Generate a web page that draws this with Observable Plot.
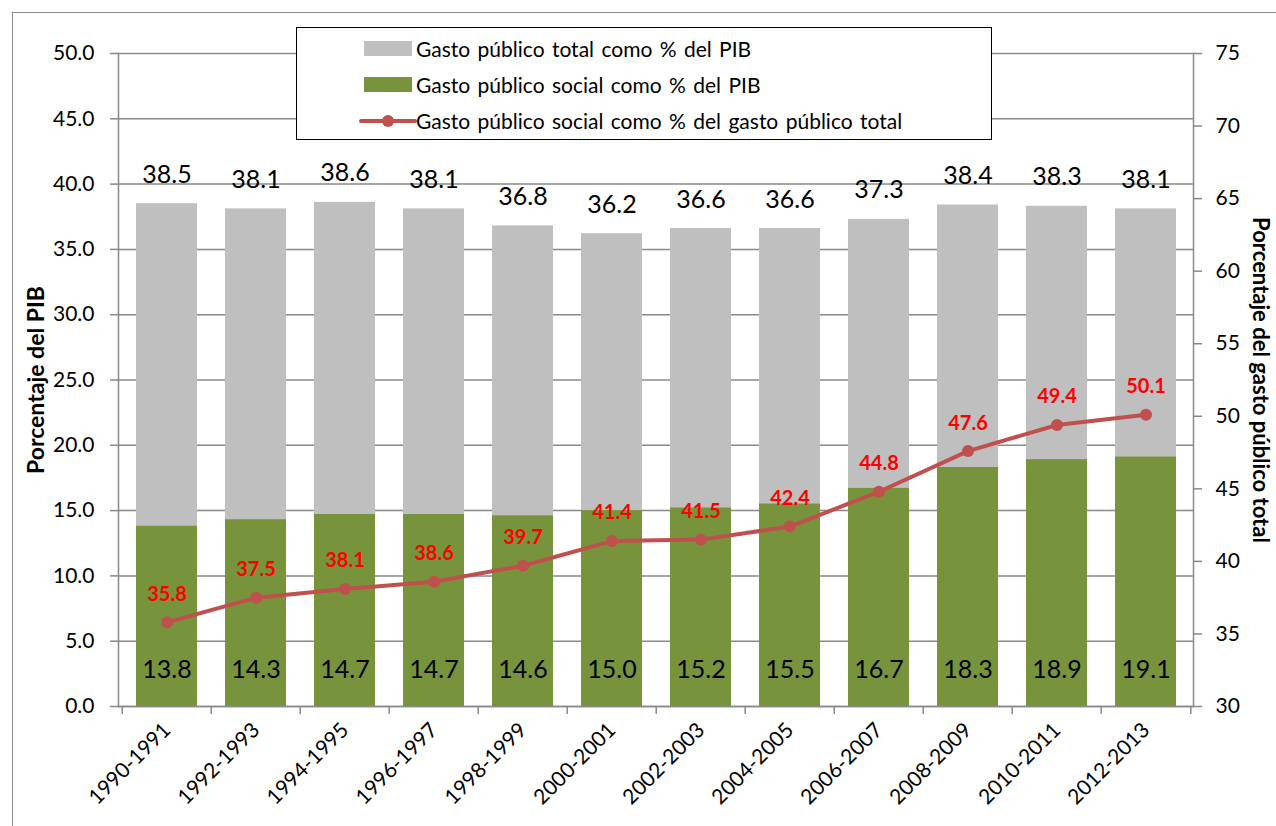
<!DOCTYPE html>
<html>
<head>
<meta charset="utf-8">
<script src="https://cdn.jsdelivr.net/npm/d3@7"></script>
<script src="https://cdn.jsdelivr.net/npm/@observablehq/plot@0.6"></script>
<style>
  html, body { margin: 0; padding: 0; background: #fff; }
  #wrap { position: relative; width: 1276px; height: 826px; overflow: hidden; font-family: Lato, "Open Sans", sans-serif; }
  #outer { position: absolute; left: 12px; top: 12px; width: 1400px; height: 1000px; border: 1.5px solid #8c8c8c; box-sizing: border-box; pointer-events: none; }
  #chart { position: absolute; left: 0; top: 0; }
  #legend { position: absolute; left: 296px; top: 27px; width: 696px; height: 113px; box-sizing: border-box; border: 1.5px solid #000; background: #fff; font-size: 21px; color: #000; }
  .sw { position: absolute; left: 67px; width: 48px; height: 15px; }
  .lbl { position: absolute; left: 119px; white-space: nowrap; line-height: 24px; word-spacing: 2px; }
</style>
</head>
<body>
<div id="wrap">
  <div id="outer"></div>
  <div id="chart"></div>
  <div id="legend"></div>
</div>
<script>
const categories = ["1990-1991","1992-1993","1994-1995","1996-1997","1998-1999","2000-2001","2002-2003","2004-2005","2006-2007","2008-2009","2010-2011","2012-2013"];
const totalPIB   = [38.5, 38.1, 38.6, 38.1, 36.8, 36.2, 36.6, 36.6, 37.3, 38.4, 38.3, 38.1];
const socialPIB  = [13.8, 14.3, 14.7, 14.7, 14.6, 15.0, 15.2, 15.5, 16.7, 18.3, 18.9, 19.1];
const socialShare = [35.8, 37.5, 38.1, 38.6, 39.7, 41.4, 41.5, 42.4, 44.8, 47.6, 49.4, 50.1];
const leftTicks  = [0, 5, 10, 15, 20, 25, 30, 35, 40, 45, 50];
const rightTicks = [30, 35, 40, 45, 50, 55, 60, 65, 70, 75];
const seriesNames = ["Gasto público total como % del PIB", "Gasto público social como % del PIB", "Gasto público social como % del gasto público total"];
const leftTitle = "Porcentaje del PIB";
const rightTitle = "Porcentaje del gasto público total";

const colors = { total: "#BFBFBF", social: "#77933C", line: "#C0504D", lineLabel: "#FF0000", grid: "#898989" };

// right axis domain [30,75] mapped onto left domain [0,50]
const rMin = 30, rMax = 75, lMax = 50;
const toLeft = v => (v - rMin) * lMax / (rMax - rMin);
const fromLeft = v => v * (rMax - rMin) / lMax + rMin;

const data = categories.map((c, i) => ({ cat: c, total: totalPIB[i], social: socialPIB[i], share: socialShare[i] }));

const W = 1276, H = 826, mL = 118, mR = 83, mT = 53, mB = 120;
const step = (W - mL - mR) / categories.length;

const chart = Plot.plot({
  width: W, height: H,
  marginLeft: mL, marginRight: mR, marginTop: mT, marginBottom: mB,
  style: { fontFamily: "Lato, 'Open Sans', sans-serif", fontSize: "21px", color: "#000", background: "transparent", overflow: "visible" },
  x: { type: "band", domain: categories, paddingInner: 0.32, paddingOuter: 0.16, label: null },
  y: { domain: [0, lMax], label: null },
  marks: [
    Plot.gridY(leftTicks, { stroke: colors.grid, strokeOpacity: 1, strokeWidth: 1.5 }),
    Plot.barY(data, { x: "cat", y: "total", fill: colors.total }),
    Plot.barY(data, { x: "cat", y: "social", fill: colors.social }),
    Plot.frame({ anchor: "left", stroke: colors.grid, strokeWidth: 1.5 }),
    Plot.frame({ anchor: "right", stroke: colors.grid, strokeWidth: 1.5 }),
    Plot.frame({ anchor: "bottom", stroke: colors.grid, strokeWidth: 1.5 }),
    Plot.axisY(leftTicks, { anchor: "left", tickSize: 8, tickPadding: 16, tickFormat: d => d.toFixed(1), stroke: colors.grid, strokeWidth: 1.5, label: null, fontSize: 21 }),
    Plot.axisY(rightTicks.map(toLeft), { anchor: "right", tickSize: 8, tickPadding: 14, tickFormat: d => String(Math.round(fromLeft(d))), stroke: colors.grid, strokeWidth: 1.5, label: null, fontSize: 21 }),
    Plot.axisX(categories, { tickSize: 8, tickFormat: () => "", dx: -step / 2, stroke: colors.grid, strokeWidth: 1.5, label: null }),
    Plot.axisX([categories[categories.length - 1]], { tickSize: 8, tickFormat: () => "", dx: step / 2, stroke: colors.grid, strokeWidth: 1.5, label: null }),
    Plot.axisX(categories, { tickSize: 0, tickRotate: -45, tickPadding: 20, label: null, fontSize: 21 }),
    Plot.text(data, { x: "cat", y: "total", text: d => d.total.toFixed(1), dy: -29, fontSize: 25, fill: "#000" }),
    Plot.text(data, { x: "cat", frameAnchor: "bottom", text: d => d.social.toFixed(1), dy: -29, fontSize: 25, fill: "#000" }),
    Plot.line(data, { x: "cat", y: d => toLeft(d.share), stroke: colors.line, strokeWidth: 4 }),
    Plot.dot(data, { x: "cat", y: d => toLeft(d.share), r: 6, fill: colors.line, stroke: "none" }),
    Plot.text(data, { x: "cat", y: d => toLeft(d.share), text: d => d.share.toFixed(1), dy: -28, fontSize: 20, fontWeight: "bold", fill: colors.lineLabel }),
    Plot.text([leftTitle], { frameAnchor: "left", textAnchor: "middle", text: d => d, rotate: -90, dx: -82, fontSize: 23, fontWeight: "bold", fill: "#000" }),
    Plot.text([rightTitle], { frameAnchor: "right", textAnchor: "middle", text: d => d, rotate: 90, dx: 67, fontSize: 22, fontWeight: "bold", fill: "#000" })
  ]
});
document.getElementById("chart").appendChild(chart);

// legend
const legend = document.getElementById("legend");
const rowsY = [9, 45, 81];
seriesNames.forEach((name, i) => {
  const row = document.createElement("div");
  row.style.cssText = `position:absolute;left:0;top:${rowsY[i]}px;width:100%;height:24px;`;
  if (i < 2) {
    const sw = document.createElement("div");
    sw.className = "sw";
    sw.style.top = "4px";
    sw.style.background = i === 0 ? colors.total : colors.social;
    row.appendChild(sw);
  } else {
    const svgNS = "http://www.w3.org/2000/svg";
    const s = document.createElementNS(svgNS, "svg");
    s.setAttribute("width", "60"); s.setAttribute("height", "24");
    s.style.cssText = "position:absolute;left:62px;top:0;";
    const l = document.createElementNS(svgNS, "line");
    l.setAttribute("x1", "2"); l.setAttribute("x2", "56"); l.setAttribute("y1", "12"); l.setAttribute("y2", "12");
    l.setAttribute("stroke", colors.line); l.setAttribute("stroke-width", "4"); l.setAttribute("stroke-linecap", "round");
    const c = document.createElementNS(svgNS, "circle");
    c.setAttribute("cx", "29"); c.setAttribute("cy", "12"); c.setAttribute("r", "6"); c.setAttribute("fill", colors.line);
    s.appendChild(l); s.appendChild(c);
    row.appendChild(s);
  }
  const t = document.createElement("div");
  t.className = "lbl";
  t.textContent = name;
  row.appendChild(t);
  legend.appendChild(row);
});
</script>
</body>
</html>
